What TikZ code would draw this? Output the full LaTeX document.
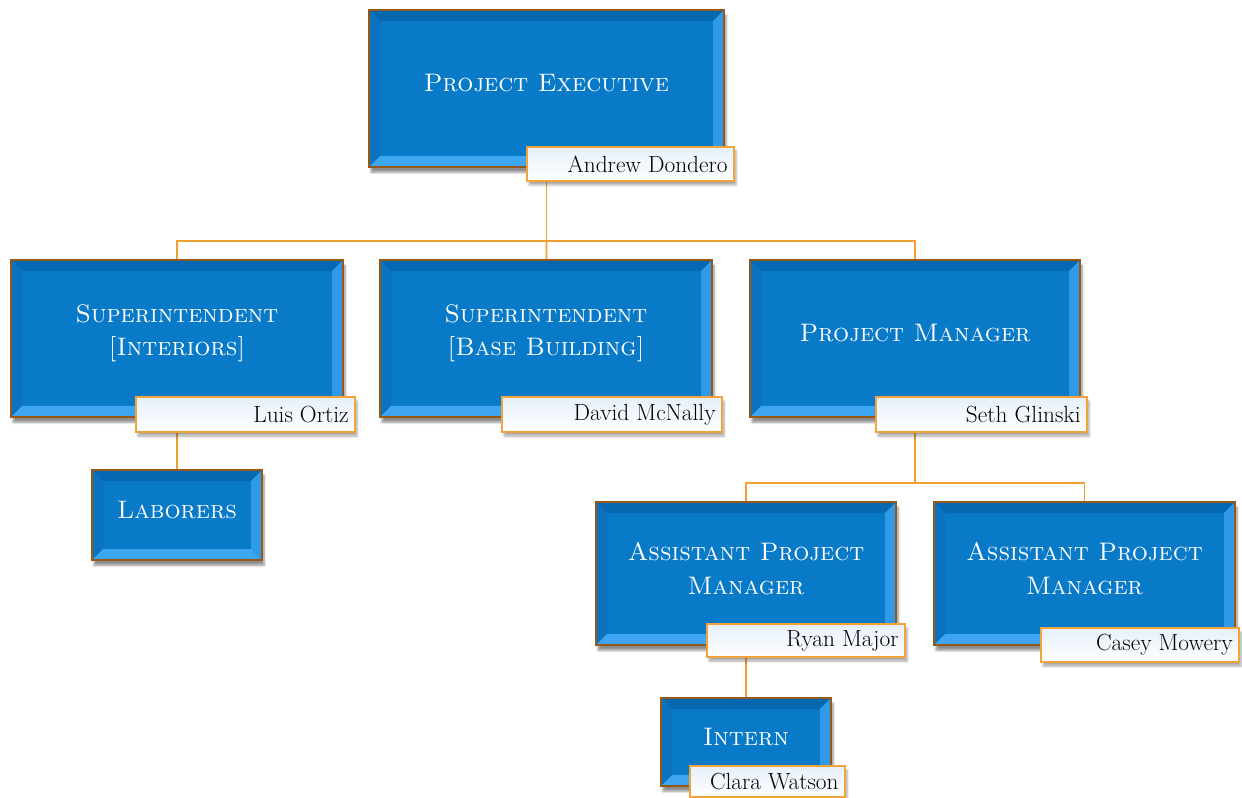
\documentclass[tikz,border=0pt]{standalone}
\usetikzlibrary{calc,shadows.blur,backgrounds}
\definecolor{boxface}{RGB}{8,122,200}
\definecolor{bevtop}{RGB}{6,104,176}
\definecolor{bevleft}{RGB}{10,114,190}
\definecolor{bevbot}{RGB}{62,166,240}
\definecolor{bevright}{RGB}{48,154,232}
\definecolor{boxborder}{RGB}{150,88,22}
\definecolor{tagborder}{RGB}{242,163,58}
\definecolor{tagtint}{RGB}{230,240,250}
\definecolor{conncol}{RGB}{240,160,50}
\begin{document}
\begin{tikzpicture}[x=0.75pt,y=-0.75pt,
  box/.style 2 args={rectangle, inner sep=0pt, minimum width=#1*0.75pt, minimum height=#2*0.75pt,
    fill=boxface, draw=boxborder, line width=1.4pt,
    blur shadow={shadow xshift=1.5pt, shadow yshift=-4pt, shadow opacity=45, shadow blur steps=6},
    path picture={
      \coordinate (nw) at (path picture bounding box.north west);
      \coordinate (ne) at (path picture bounding box.north east);
      \coordinate (sw) at (path picture bounding box.south west);
      \coordinate (se) at (path picture bounding box.south east);
      \fill[bevtop] (nw) -- (ne) -- ($(ne)+(-11,11)$) -- ($(nw)+(11,11)$) -- cycle;
      \fill[bevleft] (nw) -- (sw) -- ($(sw)+(11,-11)$) -- ($(nw)+(11,11)$) -- cycle;
      \fill[bevbot] (sw) -- (se) -- ($(se)+(-11,-11)$) -- ($(sw)+(11,-11)$) -- cycle;
      \fill[bevright] (ne) -- (se) -- ($(se)+(-11,-11)$) -- ($(ne)+(-11,11)$) -- cycle;
    }},
  tag/.style 2 args={rectangle, inner sep=0pt, minimum width=#1*0.75pt, minimum height=#2*0.75pt,
    top color=tagtint, bottom color=white, draw=tagborder, line width=1.3pt,
    blur shadow={shadow xshift=1.5pt, shadow yshift=-3pt, shadow opacity=35, shadow blur steps=5}},
  title/.style={text=white, align=center, font=\fontsize{19}{25}\selectfont\scshape},
  who/.style={text=black, anchor=east, inner sep=0pt, font=\fontsize{17.5}{19}\selectfont},
  conn/.style={draw=conncol, line width=1.3pt}
]
\useasboundingbox (0,0) rectangle (1242,798);

% boxes
\node[box={355}{157}] (pe) at (546.5,88.5) {};
\node[title] (pet) at ($(pe.center)+(0,-5)$) {Project Executive};
\node[tag={207}{34}] (pen) at (630.5,164) {};
\node[who] at ($(pen.east)+(-7,0)$) {Andrew Dondero};

\node[box={332}{157}] (si) at (177,338.5) {};
\node[title] (sit) at ($(si.center)+(0,-5)$) {Superintendent\\{}[Interiors]};
\node[tag={219}{35}] (sin) at (245.5,414.5) {};
\node[who] at ($(sin.east)+(-7,0)$) {Luis Ortiz};

\node[box={332}{157}] (sb) at (546,338.5) {};
\node[title] (sbt) at ($(sb.center)+(0,-5)$) {Superintendent\\{}[Base Building]};
\node[tag={220}{35}] (sbn) at (612,414.5) {};
\node[who] at ($(sbn.east)+(-7,0)$) {David McNally};

\node[box={330}{157}] (pm) at (915,338.5) {};
\node[title] (pmt) at ($(pm.center)+(0,-5)$) {Project Manager};
\node[tag={211}{35}] (pmn) at (981.5,414.5) {};
\node[who] at ($(pmn.east)+(-7,0)$) {Seth Glinski};

\node[box={170}{90}] (lab) at (177,515) {};
\node[title] (labt) at ($(lab.center)+(0,-5)$) {Laborers};

\node[box={300}{143}] (a1) at (746,573.5) {};
\node[title] (a1t) at ($(a1.center)+(0,-5)$) {Assistant Project\\Manager};
\node[tag={198}{33}] (a1n) at (806,640.5) {};
\node[who] at ($(a1n.east)+(-7,0)$) {Ryan Major};

\node[box={301}{143}] (a2) at (1084.5,573.5) {};
\node[title] (a2t) at ($(a2.center)+(0,-5)$) {Assistant Project\\Manager};
\node[tag={198}{34}] (a2n) at (1140,645) {};
\node[who] at ($(a2n.east)+(-7,0)$) {Casey Mowery};

\node[box={170}{88}] (int) at (746,742) {};
\node[title] (intt) at ($(int.center)+(0,-5)$) {Intern};
\node[tag={155}{31}] (intn) at (767.5,781.5) {};
\node[who] at ($(intn.east)+(-7,0)$) {Clara Watson};

% connectors
\coordinate (bus1) at (546,241);
\coordinate (bus2) at (915,483);
\begin{scope}[on background layer]
  \draw[conn] (pe.center) -- (pe.center |- bus1) -| (si.center);
  \draw[conn] (pe.center |- bus1) -| (pm.center);
  \draw[conn] (pe.center |- bus1) -- (sb.center);
  \draw[conn] (pm.center) -- (pm.center |- bus2) -| (a1.center);
  \draw[conn] (pm.center |- bus2) -| (a2.center);
  \draw[conn] (si.center) -- (lab.center);
  \draw[conn] (a1.center) -- (int.center);
\end{scope}
\end{tikzpicture}
\end{document}
